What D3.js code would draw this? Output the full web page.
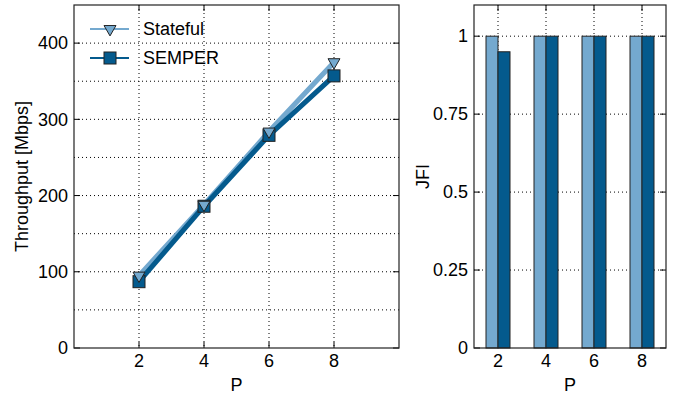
<!DOCTYPE html>
<html>
<head>
<meta charset="utf-8">
<script src="https://cdn.jsdelivr.net/npm/d3@7"></script>
<style>
  body { margin: 0; background: #fff; }
  svg { font-family: "Liberation Sans", Arial, Helvetica, sans-serif; }
</style>
</head>
<body>
<script>
// data
var pValues = [2, 4, 6, 8];
var statefulTput = [95, 188, 284, 375];
var semperTput = [87, 186, 279, 357];
var statefulJfi = [1, 1, 1, 1];
var semperJfi = [0.95, 1, 1, 1];
var seriesNames = ["Stateful", "SEMPER"];
var tputTicks = [0, 100, 200, 300, 400];
var tputMinor = [50, 150, 250, 350];
var jfiTicks = [0, 0.25, 0.5, 0.75, 1];
var jfiTickLabels = ["0", "0.25", "0.5", "0.75", "1"];

var light = "#74a9cf";
var dark = "#045a8d";
var fs = 18;

var W = 678, H = 397;
var svg = d3.select("body").append("svg")
    .attr("width", W)
    .attr("height", H);

function dotted(sel) {
    sel.attr("stroke", "#000")
        .attr("stroke-width", 1)
        .attr("stroke-dasharray", "1,3");
}

// ---------- left: throughput ----------
var L = {left: 74, right: 399, top: 5, bottom: 348};
var x1 = d3.scaleLinear().domain([0, 10]).range([L.left, L.right]);
var y1 = d3.scaleLinear().domain([0, 450]).range([L.bottom, L.top]);

var g1 = svg.append("g");

g1.selectAll("line.hgrid")
    .data(tputTicks.slice(1).concat(tputMinor))
    .enter().append("line")
    .attr("x1", L.left).attr("x2", L.right)
    .attr("y1", function(d) { return y1(d); })
    .attr("y2", function(d) { return y1(d); })
    .call(dotted);

g1.selectAll("line.vgrid")
    .data(pValues)
    .enter().append("line")
    .attr("x1", function(d) { return x1(d); })
    .attr("x2", function(d) { return x1(d); })
    .attr("y1", L.top).attr("y2", L.bottom)
    .call(dotted);

// inner tick marks
pValues.forEach(function(p) {
    g1.append("line").attr("x1", x1(p)).attr("x2", x1(p))
        .attr("y1", L.bottom).attr("y2", L.bottom - 6).attr("stroke", "#000");
    g1.append("line").attr("x1", x1(p)).attr("x2", x1(p))
        .attr("y1", L.top).attr("y2", L.top + 6).attr("stroke", "#000");
});
tputTicks.forEach(function(t) {
    g1.append("line").attr("x1", L.left).attr("x2", L.left + 6)
        .attr("y1", y1(t)).attr("y2", y1(t)).attr("stroke", "#000");
    g1.append("line").attr("x1", L.right).attr("x2", L.right - 6)
        .attr("y1", y1(t)).attr("y2", y1(t)).attr("stroke", "#000");
});

var line1 = d3.line()
    .x(function(d, i) { return x1(pValues[i]); })
    .y(function(d) { return y1(d); });

g1.append("path").datum(statefulTput)
    .attr("d", line1).attr("fill", "none")
    .attr("stroke", light).attr("stroke-width", 5);
g1.append("path").datum(semperTput)
    .attr("d", line1).attr("fill", "none")
    .attr("stroke", dark).attr("stroke-width", 5);

var tri = d3.symbol().type(d3.symbolTriangle).size(62);
var sq = 12;

g1.selectAll("rect.sq")
    .data(semperTput)
    .enter().append("rect")
    .attr("x", function(d, i) { return x1(pValues[i]) - sq / 2; })
    .attr("y", function(d) { return y1(d) - sq / 2; })
    .attr("width", sq).attr("height", sq)
    .attr("fill", dark).attr("stroke", "#222").attr("stroke-width", 1);

g1.selectAll("path.tri")
    .data(statefulTput)
    .enter().append("path")
    .attr("d", tri)
    .attr("transform", function(d, i) {
        return "translate(" + x1(pValues[i]) + "," + y1(d) + ") rotate(180)";
    })
    .attr("fill", light).attr("stroke", "#222").attr("stroke-width", 1);

// frame
g1.append("rect")
    .attr("x", L.left).attr("y", L.top)
    .attr("width", L.right - L.left).attr("height", L.bottom - L.top)
    .attr("fill", "none").attr("stroke", "#222").attr("stroke-width", 1.2);

// tick labels
g1.selectAll("text.yt")
    .data(tputTicks)
    .enter().append("text")
    .attr("x", L.left - 6)
    .attr("y", function(d) { return y1(d); })
    .attr("dy", "0.35em")
    .attr("text-anchor", "end")
    .attr("font-size", fs)
    .text(function(d) { return d; });

g1.selectAll("text.xt")
    .data(pValues)
    .enter().append("text")
    .attr("x", function(d) { return x1(d); })
    .attr("y", 367)
    .attr("text-anchor", "middle")
    .attr("font-size", fs)
    .text(function(d) { return d; });

g1.append("text")
    .attr("x", (L.left + L.right) / 2).attr("y", 391)
    .attr("text-anchor", "middle").attr("font-size", fs)
    .text("P");

g1.append("text")
    .attr("transform", "translate(28," + ((L.top + L.bottom) / 2) + ") rotate(-90)")
    .attr("text-anchor", "middle").attr("font-size", fs)
    .text("Throughput [Mbps]");

// legend
var legendY = [29, 58];
seriesNames.forEach(function(name, i) {
    var ly = legendY[i];
    g1.append("line")
        .attr("x1", 90).attr("x2", 129)
        .attr("y1", ly).attr("y2", ly)
        .attr("stroke", i === 0 ? light : dark).attr("stroke-width", 2);
    if (i === 0) {
        g1.append("path").attr("d", tri)
            .attr("transform", "translate(110," + ly + ") rotate(180)")
            .attr("fill", light).attr("stroke", "#222");
    } else {
        g1.append("rect")
            .attr("x", 110 - sq / 2).attr("y", ly - sq / 2)
            .attr("width", sq).attr("height", sq)
            .attr("fill", dark).attr("stroke", "#222");
    }
    g1.append("text")
        .attr("x", 143).attr("y", ly)
        .attr("dy", "0.35em").attr("font-size", fs)
        .text(name);
});

// ---------- right: JFI ----------
var R = {left: 474, right: 666, top: 5, bottom: 348};
var x2 = d3.scaleLinear().domain([1, 9]).range([R.left, R.right]);
var y2 = d3.scaleLinear().domain([0, 1.1]).range([R.bottom, R.top]);

var g2 = svg.append("g");

g2.selectAll("line.hgrid")
    .data(jfiTicks.slice(1))
    .enter().append("line")
    .attr("x1", R.left).attr("x2", R.right)
    .attr("y1", function(d) { return y2(d); })
    .attr("y2", function(d) { return y2(d); })
    .call(dotted);

g2.selectAll("line.vgrid")
    .data(pValues)
    .enter().append("line")
    .attr("x1", function(d) { return x2(d); })
    .attr("x2", function(d) { return x2(d); })
    .attr("y1", R.top).attr("y2", R.bottom)
    .call(dotted);

pValues.forEach(function(p) {
    g2.append("line").attr("x1", x2(p)).attr("x2", x2(p))
        .attr("y1", R.top).attr("y2", R.top + 6).attr("stroke", "#000");
});
jfiTicks.forEach(function(t) {
    g2.append("line").attr("x1", R.left).attr("x2", R.left + 6)
        .attr("y1", y2(t)).attr("y2", y2(t)).attr("stroke", "#000");
    g2.append("line").attr("x1", R.right).attr("x2", R.right - 6)
        .attr("y1", y2(t)).attr("y2", y2(t)).attr("stroke", "#000");
});

var barW = 0.5;
g2.selectAll("rect.bs")
    .data(statefulJfi)
    .enter().append("rect")
    .attr("x", function(d, i) { return x2(pValues[i] - barW); })
    .attr("y", function(d) { return y2(d); })
    .attr("width", x2(barW) - x2(0))
    .attr("height", function(d) { return y2(0) - y2(d); })
    .attr("fill", light).attr("stroke", "#222").attr("stroke-width", 1);

g2.selectAll("rect.bm")
    .data(semperJfi)
    .enter().append("rect")
    .attr("x", function(d, i) { return x2(pValues[i]); })
    .attr("y", function(d) { return y2(d); })
    .attr("width", x2(barW) - x2(0))
    .attr("height", function(d) { return y2(0) - y2(d); })
    .attr("fill", dark).attr("stroke", "#222").attr("stroke-width", 1);

g2.append("rect")
    .attr("x", R.left).attr("y", R.top)
    .attr("width", R.right - R.left).attr("height", R.bottom - R.top)
    .attr("fill", "none").attr("stroke", "#222").attr("stroke-width", 1.2);

g2.selectAll("text.yt")
    .data(jfiTicks)
    .enter().append("text")
    .attr("x", R.left - 6)
    .attr("y", function(d) { return y2(d); })
    .attr("dy", "0.35em")
    .attr("text-anchor", "end")
    .attr("font-size", fs)
    .text(function(d, i) { return jfiTickLabels[i]; });

g2.selectAll("text.xt")
    .data(pValues)
    .enter().append("text")
    .attr("x", function(d) { return x2(d); })
    .attr("y", 367)
    .attr("text-anchor", "middle")
    .attr("font-size", fs)
    .text(function(d) { return d; });

g2.append("text")
    .attr("x", (R.left + R.right) / 2).attr("y", 391)
    .attr("text-anchor", "middle").attr("font-size", fs)
    .text("P");

g2.append("text")
    .attr("transform", "translate(429," + ((R.top + R.bottom) / 2) + ") rotate(-90)")
    .attr("text-anchor", "middle").attr("font-size", fs)
    .text("JFI");
</script>
</body>
</html>
